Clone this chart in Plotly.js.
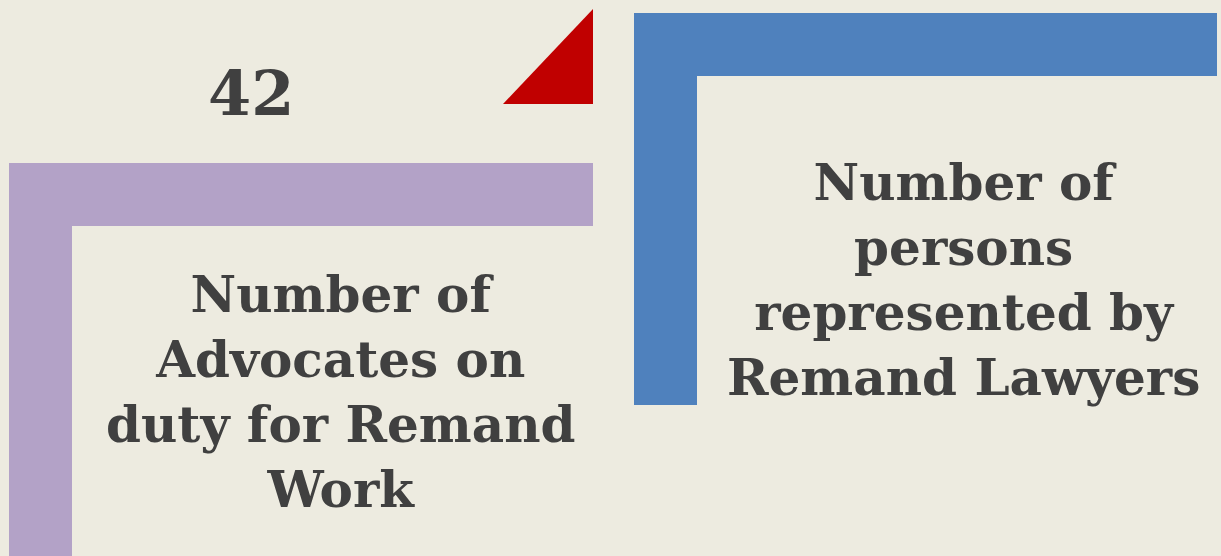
<!DOCTYPE html>
<html>
<head>
<meta charset="utf-8">
<script src="https://cdn.plot.ly/plotly-3.0.1.min.js"></script>
<style>
  html, body { margin: 0; padding: 0; background: #EDEBE0; }
  #container { width: 1221px; height: 556px; }
</style>
</head>
<body>
<div id="container"></div>
<script>
// panel data
var values = [42, null];
var labels = [
  'Number of<br>Advocates on<br>duty for Remand<br>Work',
  'Number of<br>persons<br>represented by<br>Remand Lawyers'
];
var panelColors = ['#B3A2C7', '#4F81BD'];

var W = 1221, H = 556;
var bg = '#EDEBE0';
var textColor = '#404040';
var font = 'DejaVu Serif';

// L-frame geometry: [left, top, right, bottom, thickness]
var frames = [
  [9, 163, 593, 556, 63],
  [634, 13, 1217, 405, 63]
];
var labelPos = [[340, 392], [963, 280]];
var valuePos = [[251, 93], [963, 93]];

var shapes = [];
frames.forEach(function(f, i){
  shapes.push({type: 'rect', xref: 'x', yref: 'y', x0: f[0], x1: f[2], y0: f[1], y1: f[1] + f[4],
    fillcolor: panelColors[i], line: {width: 0}, layer: 'below'});
  shapes.push({type: 'rect', xref: 'x', yref: 'y', x0: f[0], x1: f[0] + f[4], y0: f[1], y1: f[3],
    fillcolor: panelColors[i], line: {width: 0}, layer: 'below'});
});
// red corner triangle
shapes.push({type: 'path', xref: 'x', yref: 'y', path: 'M 593 9 L 593 104 L 503 104 Z',
  fillcolor: '#C00000', line: {width: 0}});

var annotations = [];
labels.forEach(function(t, i){
  annotations.push({x: labelPos[i][0], y: labelPos[i][1], xref: 'x', yref: 'y', text: '<b>' + t + '</b>',
    showarrow: false, align: 'center', font: {family: font, size: 50, color: textColor}});
  if (values[i] !== null) {
    annotations.push({x: valuePos[i][0], y: valuePos[i][1], xref: 'x', yref: 'y', text: '<b>' + values[i] + '</b>',
      showarrow: false, font: {family: font, size: 62, color: textColor}});
  }
});

var layout = {
  width: W, height: H,
  margin: {l: 0, r: 0, t: 0, b: 0},
  paper_bgcolor: bg, plot_bgcolor: bg,
  xaxis: {range: [0, W], visible: false, fixedrange: true},
  yaxis: {range: [H, 0], visible: false, fixedrange: true},
  shapes: shapes,
  annotations: annotations,
  showlegend: false
};

Plotly.newPlot('container', [], layout, {displayModeBar: false, staticPlot: true});
</script>
</body>
</html>
